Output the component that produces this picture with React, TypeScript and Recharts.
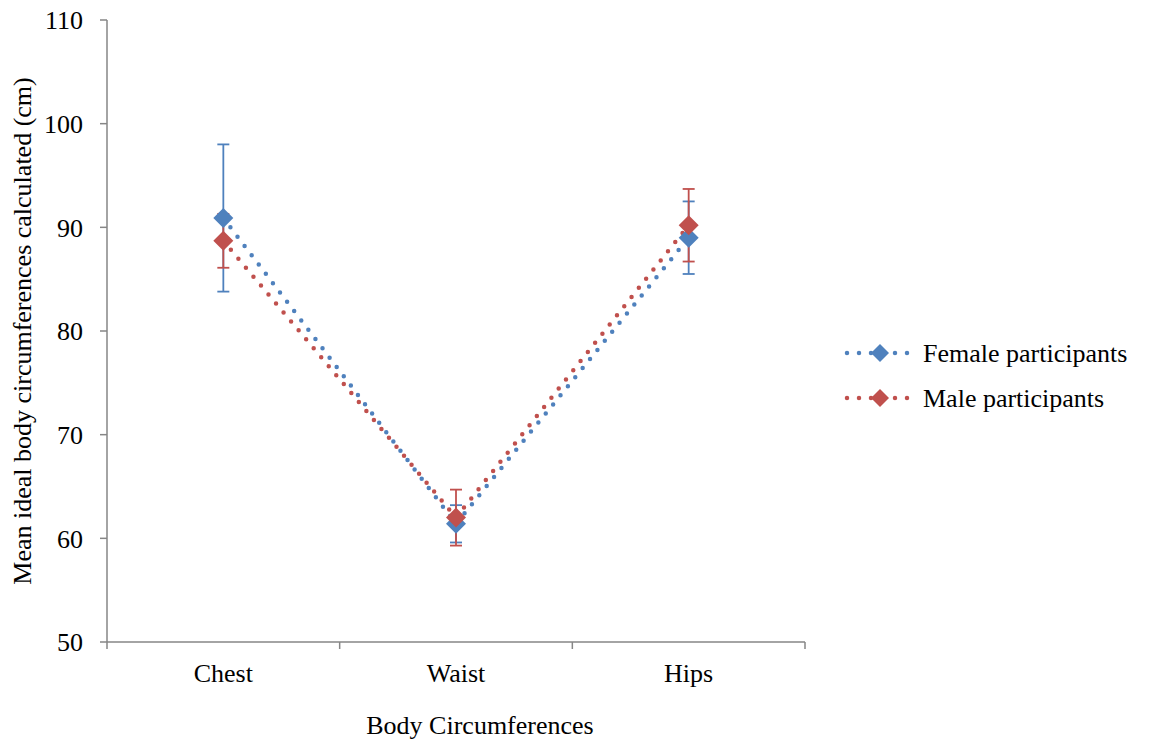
import React from 'react';
import { LineChart, Line, XAxis, YAxis, ErrorBar } from 'recharts';

// Mean ideal body circumferences (cm) with standard-deviation error bars
const categories = ['Chest', 'Waist', 'Hips'];
const femaleMeans = [90.9, 61.4, 89.0];
const femaleErrors = [7.1, 1.8, 3.5];
const maleMeans = [88.7, 62.0, 90.2];
const maleErrors = [2.6, 2.7, 3.5];
const yTicks = [50, 60, 70, 80, 90, 100, 110];
const seriesNames = ['Female participants', 'Male participants'];
const seriesColors = ['#4F81BD', '#C0504D'];

// categories sit in the middle of each band, boundaries carry the tick marks
const data = categories.map((category, i) => ({
  category,
  pos: i + 0.5,
  female: femaleMeans[i],
  femaleErr: femaleErrors[i],
  male: maleMeans[i],
  maleErr: maleErrors[i],
}));
const xTicks: number[] = [];
categories.forEach((_, i) => {
  xTicks.push(i, i + 0.5);
});
xTicks.push(categories.length);

const FONT = '"Liberation Serif", "Times New Roman", serif';
const FONT_SIZE = 26;
const AXIS_COLOR = '#868686';
const TICK_SIZE = 7;
const X_TICK_MARGIN = 15;

const XTick = (props: any) => {
  const { x, y, payload } = props;
  const v = payload.value as number;
  const axisY = y - X_TICK_MARGIN - TICK_SIZE;
  if (Number.isInteger(v)) {
    return (
      <line x1={x} x2={x} y1={axisY} y2={axisY + TICK_SIZE} stroke={AXIS_COLOR} strokeWidth={1.5} />
    );
  }
  return (
    <text x={x} y={y} dy="0.71em" textAnchor="middle" fill="#000" fontFamily={FONT} fontSize={FONT_SIZE}>
      {categories[Math.floor(v)]}
    </text>
  );
};

const diamond = (color: string) => (props: any) => {
  const { cx, cy, index } = props;
  if (cx == null || cy == null) return <g key={`e-${index}`} />;
  const r = 10;
  return (
    <polygon
      key={`d-${index}`}
      points={`${cx},${cy - r} ${cx + r},${cy} ${cx},${cy + r} ${cx - r},${cy}`}
      fill={color}
    />
  );
};

const LegendBox = () => (
  <svg
    width={300}
    height={90}
    style={{ position: 'absolute', left: 832, top: 322, overflow: 'visible' }}
  >
    {seriesNames.map((name, i) => {
      const cy = 23 + i * 45;
      const c = seriesColors[i];
      return (
        <g key={name}>
          <line
            x1={7}
            x2={68}
            y1={cy}
            y2={cy}
            stroke={c}
            strokeWidth={4.5}
            strokeDasharray="0 12"
            strokeLinecap="round"
          />
          <polygon points={`40,${cy - 9} 49,${cy} 40,${cy + 9} 31,${cy}`} fill={c} />
          <text x={83} y={cy + 9} fontFamily={FONT} fontSize={FONT_SIZE} fill="#000">
            {name}
          </text>
        </g>
      );
    })}
  </svg>
);

export default function App() {
  return (
    <div style={{ position: 'relative', width: 1141, height: 732 }}>
      <LineChart
        width={1141}
        height={732}
        data={data}
        margin={{ top: 12, right: 344, bottom: 6, left: 0 }}
      >
        <XAxis
          type="number"
          dataKey="pos"
          domain={[0, categories.length]}
          ticks={xTicks}
          interval={0}
          height={92}
          tickLine={false}
          tickSize={TICK_SIZE}
          tickMargin={X_TICK_MARGIN}
          axisLine={{ stroke: AXIS_COLOR, strokeWidth: 1.5 }}
          tick={<XTick />}
          label={{
            value: 'Body Circumferences',
            position: 'insideBottom',
            offset: 0,
            dx: 24,
            fill: '#000',
            style: { fontFamily: FONT, fontSize: FONT_SIZE, fill: '#000' },
          }}
        />
        <YAxis
          type="number"
          domain={[50, 110]}
          ticks={yTicks}
          interval={0}
          width={99}
          tickSize={TICK_SIZE}
          tickMargin={17}
          tickLine={{ stroke: AXIS_COLOR, strokeWidth: 1.5 }}
          axisLine={{ stroke: AXIS_COLOR, strokeWidth: 1.5 }}
          tick={{ fill: '#000', fontFamily: FONT, fontSize: FONT_SIZE }}
          label={{
            value: 'Mean ideal body circumferences calculated (cm)',
            angle: -90,
            position: 'insideLeft',
            offset: 14,
            textAnchor: 'middle',
            style: { fontFamily: FONT, fontSize: FONT_SIZE, fill: '#000', textAnchor: 'middle' },
          }}
        />
        {/* error bars first so the markers sit on top of them */}
        <Line
          dataKey="female"
          stroke="none"
          dot={false}
          activeDot={false}
          isAnimationActive={false}
          legendType="none"
        >
          <ErrorBar dataKey="femaleErr" direction="y" width={6} stroke={seriesColors[0]} strokeWidth={1.8} />
        </Line>
        <Line
          dataKey="male"
          stroke="none"
          dot={false}
          activeDot={false}
          isAnimationActive={false}
          legendType="none"
        >
          <ErrorBar dataKey="maleErr" direction="y" width={6} stroke={seriesColors[1]} strokeWidth={1.8} />
        </Line>
        <Line
          dataKey="female"
          name={seriesNames[0]}
          stroke={seriesColors[0]}
          strokeWidth={4.5}
          strokeDasharray="0 11.7"
          strokeLinecap="round"
          dot={diamond(seriesColors[0])}
          activeDot={false}
          isAnimationActive={false}
        />
        <Line
          dataKey="male"
          name={seriesNames[1]}
          stroke={seriesColors[1]}
          strokeWidth={4.5}
          strokeDasharray="0 11.7"
          strokeLinecap="round"
          dot={diamond(seriesColors[1])}
          activeDot={false}
          isAnimationActive={false}
        />
      </LineChart>
      <LegendBox />
    </div>
  );
}
